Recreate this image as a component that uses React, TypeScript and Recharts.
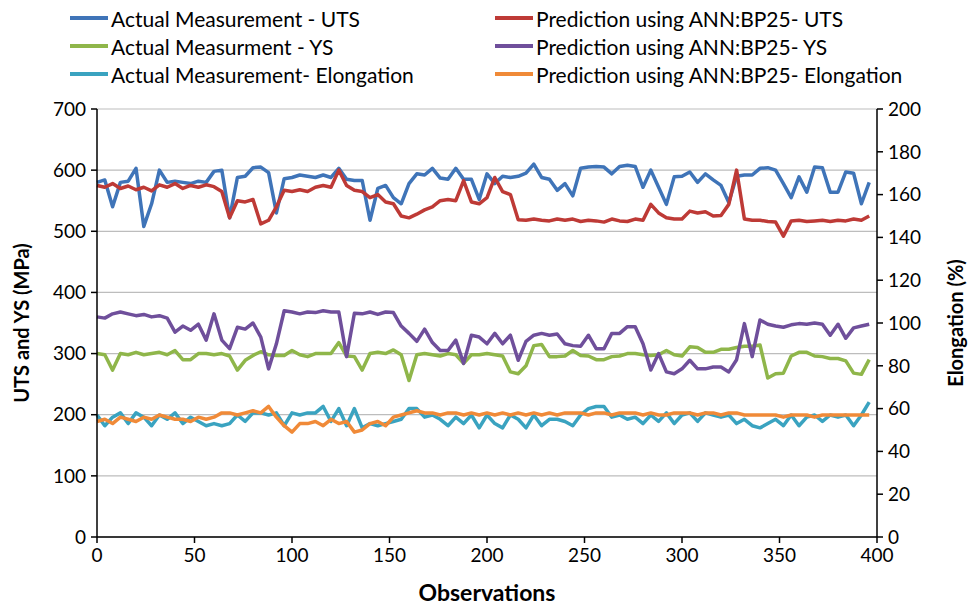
import React from 'react';
import { LineChart, Line, XAxis, YAxis, CartesianGrid, Label } from 'recharts';

const observations = [
  0, 4, 8, 12, 16, 20, 24, 28, 32, 36,
  40, 44, 48, 52, 56, 60, 64, 68, 72, 76,
  80, 84, 88, 92, 96, 100, 104, 108, 112, 116,
  120, 124, 128, 132, 136, 140, 144, 148, 152, 156,
  160, 164, 168, 172, 176, 180, 184, 188, 192, 196,
  200, 204, 208, 212, 216, 220, 224, 228, 232, 236,
  240, 244, 248, 252, 256, 260, 264, 268, 272, 276,
  280, 284, 288, 292, 296, 300, 304, 308, 312, 316,
  320, 324, 328, 332, 336, 340, 344, 348, 352, 356,
  360, 364, 368, 372, 376, 380, 384, 388, 392, 396,
];

const utsActual = [
  580, 584, 540, 580, 582, 603, 508, 545, 600, 580,
  582, 580, 578, 582, 580, 598, 600, 522, 588, 590,
  604, 605, 596, 530, 586, 588, 592, 590, 588, 592,
  588, 603, 585, 583, 583, 518, 570, 575, 555, 545,
  578, 594, 592, 603, 587, 585, 603, 585, 585, 552,
  594, 578, 590, 588, 590, 595, 610, 588, 585, 567,
  578, 558, 603, 605, 606, 605, 594, 606, 608, 606,
  572, 600, 572, 544, 589, 590, 597, 580, 594, 584,
  575, 547, 590, 592, 592, 603, 604, 600, 578, 555,
  589, 564, 605, 604, 564, 564, 597, 595, 545, 580,
];

const utsPredicted = [
  575, 572, 578, 570, 574, 568, 572, 566, 576, 572,
  578, 570, 575, 572, 576, 573, 565, 522, 550, 548,
  552, 512, 518, 540, 567, 565, 568, 565, 572, 575,
  572, 600, 575, 567, 565, 555, 560, 548, 545, 525,
  522, 528, 535, 540, 550, 552, 550, 583, 548, 545,
  555, 588, 565, 560, 519, 518, 520, 518, 517, 520,
  518, 520, 516, 518, 517, 515, 520, 517, 516, 520,
  518, 544, 530, 522, 520, 520, 533, 530, 532, 525,
  526, 544, 600, 520, 518, 518, 516, 515, 492, 517,
  518, 516, 517, 518, 516, 518, 517, 520, 518, 525,
];

const ysActual = [
  300, 298, 273, 300, 298, 302, 298, 300, 302, 298,
  305, 290, 290, 300, 300, 298, 300, 296, 273, 289,
  297, 303, 298, 297, 297, 305, 298, 295, 300, 300,
  300, 318, 296, 295, 273, 300, 302, 300, 306, 298,
  256, 298, 300, 298, 296, 300, 298, 284, 298, 298,
  300, 298, 296, 270, 267, 280, 313, 315, 295, 295,
  296, 305, 297, 296, 290, 290, 295, 296, 300, 300,
  298, 297, 298, 305, 298, 296, 311, 310, 302, 302,
  307, 307, 310, 312, 312, 314, 260, 267, 268, 296,
  302, 302, 296, 295, 292, 292, 288, 268, 266, 290,
];

const ysPredicted = [
  360, 358, 365, 368, 365, 362, 364, 360, 362, 358,
  335, 345, 338, 348, 322, 365, 322, 308, 343, 340,
  350, 327, 275, 316, 370, 368, 365, 368, 367, 370,
  368, 368, 295, 366, 365, 368, 364, 368, 367, 345,
  333, 320, 340, 318, 305, 305, 322, 284, 330, 327,
  316, 333, 316, 330, 289, 320, 330, 333, 330, 332,
  316, 313, 312, 330, 308, 308, 333, 333, 344, 344,
  316, 273, 300, 270, 267, 275, 289, 275, 275, 278,
  278, 270, 290, 349, 295, 355, 348, 345, 343, 347,
  349, 348, 350, 348, 330, 348, 325, 342, 345, 348,
];

const elongActual = [
  57, 52, 56, 58, 53, 58, 56, 52, 57, 55,
  58, 53, 56, 54, 52, 53, 52, 53, 57, 54,
  58, 58, 57, 58, 52, 58, 57, 58, 58, 61,
  54, 60, 52, 60, 51, 53, 52, 53, 54, 55,
  60, 60, 56, 57, 55, 52, 56, 53, 57, 51,
  57, 53, 51, 57, 55, 51, 57, 52, 55, 55,
  54, 52, 57, 60, 61, 61, 56, 57, 55, 56,
  53, 57, 54, 58, 53, 57, 58, 54, 58, 57,
  56, 57, 53, 55, 52, 51, 53, 55, 52, 57,
  52, 56, 57, 54, 57, 56, 57, 52, 57, 63,
];

const elongPredicted = [
  54, 55, 53, 56, 55, 54, 56, 55, 57, 56,
  55, 55, 54, 56, 55, 56, 58, 58, 57, 58,
  59, 58, 61, 56, 52, 49, 53, 53, 54, 52,
  55, 53, 54, 49, 50, 53, 54, 52, 56, 57,
  58, 59, 58, 58, 57, 58, 58, 57, 58, 57,
  58, 57, 58, 57, 58, 57, 58, 57, 58, 57,
  58, 58, 58, 57, 58, 58, 57, 58, 58, 58,
  57, 58, 57, 57, 58, 58, 58, 57, 58, 58,
  57, 58, 58, 57, 57, 57, 57, 57, 56, 57,
  57, 57, 56, 57, 57, 57, 57, 57, 57, 57,
];

const leftTicks = [0, 100, 200, 300, 400, 500, 600, 700];
const rightTicks = [0, 20, 40, 60, 80, 100, 120, 140, 160, 180, 200];
const xTicks = [0, 50, 100, 150, 200, 250, 300, 350, 400];

const seriesNames = {
  utsA: 'Actual Measurement - UTS',
  utsP: 'Prediction using ANN:BP25- UTS',
  ysA: 'Actual Measurment - YS',
  ysP: 'Prediction using ANN:BP25- YS',
  elA: 'Actual Measurement- Elongation',
  elP: 'Prediction using ANN:BP25- Elongation',
};

const colors = {
  utsA: '#3f74b8',
  utsP: '#be3a36',
  ysA: '#8fb64a',
  ysP: '#6f4f9b',
  elA: '#3aa3c0',
  elP: '#f08a38',
};

const data = observations.map((o, i) => ({
  obs: o,
  utsA: utsActual[i],
  utsP: utsPredicted[i],
  ysA: ysActual[i],
  ysP: ysPredicted[i],
  elA: elongActual[i],
  elP: elongPredicted[i],
}));

const FONT = 'Lato, "Open Sans", sans-serif';

const legendItems: { key: keyof typeof colors; x: number; y: number }[] = [
  { key: 'utsA', x: 70, y: 18 },
  { key: 'utsP', x: 495, y: 18 },
  { key: 'ysA', x: 70, y: 46 },
  { key: 'ysP', x: 495, y: 46 },
  { key: 'elA', x: 70, y: 74 },
  { key: 'elP', x: 495, y: 74 },
];

export default function App() {
  const tickStyle = { fill: '#000', fontSize: 19, fontFamily: FONT };
  const lineProps = { strokeWidth: 3.5, dot: false as const, isAnimationActive: false, strokeLinejoin: 'round' as const };
  return (
    <div style={{ position: 'absolute', left: 0, top: 0, width: 972, height: 607, background: '#fff', fontFamily: FONT }}>
      {legendItems.map((it) => (
        <div
          key={it.key}
          style={{ position: 'absolute', left: it.x, top: it.y - 13, height: 26, display: 'flex', alignItems: 'center', whiteSpace: 'nowrap' }}
        >
          <div style={{ width: 38, height: 4, background: colors[it.key], marginRight: 3 }} />
          <span style={{ fontSize: 21, color: '#000' }}>{seriesNames[it.key]}</span>
        </div>
      ))}
      <LineChart
        width={972}
        height={607}
        data={data}
        margin={{ top: 109, right: 0, bottom: 0, left: 0 }}
        style={{ position: 'absolute', left: 0, top: 0 }}
      >
        <CartesianGrid vertical={false} stroke="#bdbdbd" strokeWidth={1.2} yAxisId="left" />
        <XAxis
          dataKey="obs"
          type="number"
          domain={[0, 400]}
          ticks={xTicks}
          height={70}
          tickSize={6}
          tickMargin={6}
          tick={tickStyle}
          axisLine={{ stroke: '#000', strokeWidth: 1.5 }}
          tickLine={{ stroke: '#000', strokeWidth: 1.5 }}
        >
          <Label value="Observations" position="insideBottom" offset={6} style={{ fontSize: 23, fontWeight: 'bold', fill: '#000', fontFamily: FONT }} />
        </XAxis>
        <YAxis
          yAxisId="left"
          domain={[0, 700]}
          ticks={leftTicks}
          width={97}
          tickSize={6}
          tickMargin={5}
          tick={tickStyle}
          axisLine={{ stroke: '#000', strokeWidth: 1.5 }}
          tickLine={{ stroke: '#000', strokeWidth: 1.5 }}
        >
          <Label value="UTS and YS (MPa)" angle={-90} position="insideLeft" offset={22} style={{ textAnchor: 'middle', fontSize: 20, fontWeight: 'bold', fill: '#000', fontFamily: FONT }} />
        </YAxis>
        <YAxis
          yAxisId="right"
          orientation="right"
          domain={[0, 200]}
          ticks={rightTicks}
          width={95}
          tickSize={6}
          tickMargin={5}
          tick={tickStyle}
          axisLine={{ stroke: '#000', strokeWidth: 1.5 }}
          tickLine={{ stroke: '#000', strokeWidth: 1.5 }}
        >
          <Label value="Elongation (%)" angle={-90} position="insideRight" offset={16} style={{ textAnchor: 'middle', fontSize: 20, fontWeight: 'bold', fill: '#000', fontFamily: FONT }} />
        </YAxis>
        <Line yAxisId="left" dataKey="utsA" stroke={colors.utsA} {...lineProps} />
        <Line yAxisId="left" dataKey="ysA" stroke={colors.ysA} {...lineProps} />
        <Line yAxisId="right" dataKey="elA" stroke={colors.elA} {...lineProps} />
        <Line yAxisId="left" dataKey="utsP" stroke={colors.utsP} {...lineProps} />
        <Line yAxisId="left" dataKey="ysP" stroke={colors.ysP} {...lineProps} />
        <Line yAxisId="right" dataKey="elP" stroke={colors.elP} {...lineProps} />
      </LineChart>
    </div>
  );
}
